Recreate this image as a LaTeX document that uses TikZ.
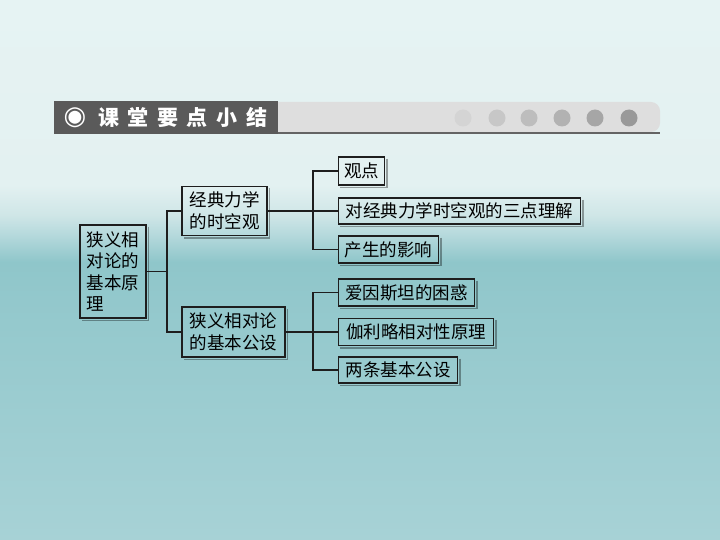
\documentclass[tikz,border=0pt]{standalone}
\usepackage{fontspec}
\newfontfamily\cjk{Noto Sans CJK SC}
\newfontfamily\dejavu{DejaVu Sans}
\definecolor{bgA}{HTML}{E6F3F3}
\definecolor{bgB}{HTML}{E3F1F1}
\definecolor{bgC}{HTML}{CFE6E7}
\definecolor{bgD}{HTML}{B5D9DC}
\definecolor{bgE}{HTML}{8FC6CA}
\definecolor{bgF}{HTML}{93C8CC}
\definecolor{bgG}{HTML}{A7D2D6}
\definecolor{headdark}{HTML}{5A5A5A}
\definecolor{headlight}{HTML}{DEDEDE}
\definecolor{headline}{HTML}{646464}
\definecolor{boxline}{HTML}{1E1E1E}
\pgfdeclareverticalshading{bgshade}{100bp}{%
  color(0bp)=(bgG); color(25bp)=(bgG); color(47.22bp)=(bgF);
  color(50.74bp)=(bgE); color(53.24bp)=(bgD); color(55.09bp)=(bgC);
  color(57.87bp)=(bgB); color(75bp)=(bgA); color(100bp)=(bgA)}
\tikzset{
  box/.style={draw=boxline, line width=1.2pt, inner sep=0pt,
    font=\cjk\fontsize{17.5}{21.5}\selectfont, text=black},
  conn/.style={draw=boxline, line width=1.2pt},
  shadowline/.style={draw=black, opacity=0.35, line width=1.3pt},
}
\begin{document}
\begin{tikzpicture}[x=1pt,y=-1pt]
\useasboundingbox (0,0) rectangle (720,540);
\shade[shading=bgshade] (0,0) rectangle (720,540);
% header bar
\fill[headlight] (278,102) {[rounded corners=9pt] -- (660,102) -- (660,132)} -- (278,132) -- cycle;
\draw[headline, line width=2.2pt] (278,133) -- (660,133);
\fill[headdark] (54,101) rectangle (278,134.5);
\foreach \cx/\gr in {463/83, 497/78, 529/74, 562/70, 595/65, 629/60}
  \fill[black!\the\numexpr100-\gr\relax] (\cx,118) circle (8.5);
\node[anchor=center, text=white, inner sep=0pt, font=\dejavu\fontsize{26}{26}\selectfont] (sym) at (75,118) {◉};
\node[anchor=west, text=white, inner sep=0pt, font=\cjk\bfseries\fontsize{21}{21}\selectfont] (title) at (98,118)
  {课\hskip8.6pt 堂\hskip8.6pt 要\hskip8.6pt 点\hskip8.6pt 小\hskip8.6pt 结};
% nodes
\node[box, minimum width=66pt, minimum height=93pt, align=left] (root) at (113,271.5)
  {狭义相\\对论的\\基本原\\理};
\node[box, minimum width=85pt, minimum height=49pt, align=left] (b1) at (224.5,211)
  {经典力学\\的时空观};
\node[box, minimum width=103pt, minimum height=50pt, align=left] (b2) at (233.5,332)
  {狭义相对论\\的基本公设};
\node[box, anchor=west, minimum width=46pt, minimum height=28pt] (l1) at (338,171) {观点};
\node[box, anchor=west, minimum width=242pt, minimum height=26pt] (l2) at (338,211) {对经典力学时空观的三点理解};
\node[box, anchor=west, minimum width=100pt, minimum height=27pt] (l3) at (338,249.5) {产生的影响};
\node[box, anchor=west, minimum width=136pt, minimum height=27pt] (l4) at (338,292.5) {爱因斯坦的困惑};
\node[box, anchor=west, minimum width=155pt, minimum height=27pt] (l5) at (338,332) {伽利略相对性原理};
\node[box, anchor=west, minimum width=119pt, minimum height=26pt] (l6) at (338,370) {两条基本公设};
% shadows on right and bottom edges
\foreach \n in {root,b1,b2,l1,l2,l3,l4,l5,l6}
  \draw[shadowline] ([shift={(1.8,2.2)}]\n.north east) -- ([shift={(1.8,1.8)}]\n.south east) -- ([shift={(2.2,1.8)}]\n.south west);
% connectors
\coordinate (j0) at (167,271.5);
\coordinate (j1) at (313,211);
\coordinate (j2) at (313,332);
\draw[conn] (root.east) -- (j0);
\draw[conn] (b1.west) -| (j0) |- (b2.west);
\draw[conn] (b1.east) -- (l2.west);
\draw[conn] (l1.west) -| (j1) |- (l3.west);
\draw[conn] (b2.east) -- (l5.west);
\draw[conn] (l4.west) -| (j2) |- (l6.west);
\end{tikzpicture}
\end{document}
